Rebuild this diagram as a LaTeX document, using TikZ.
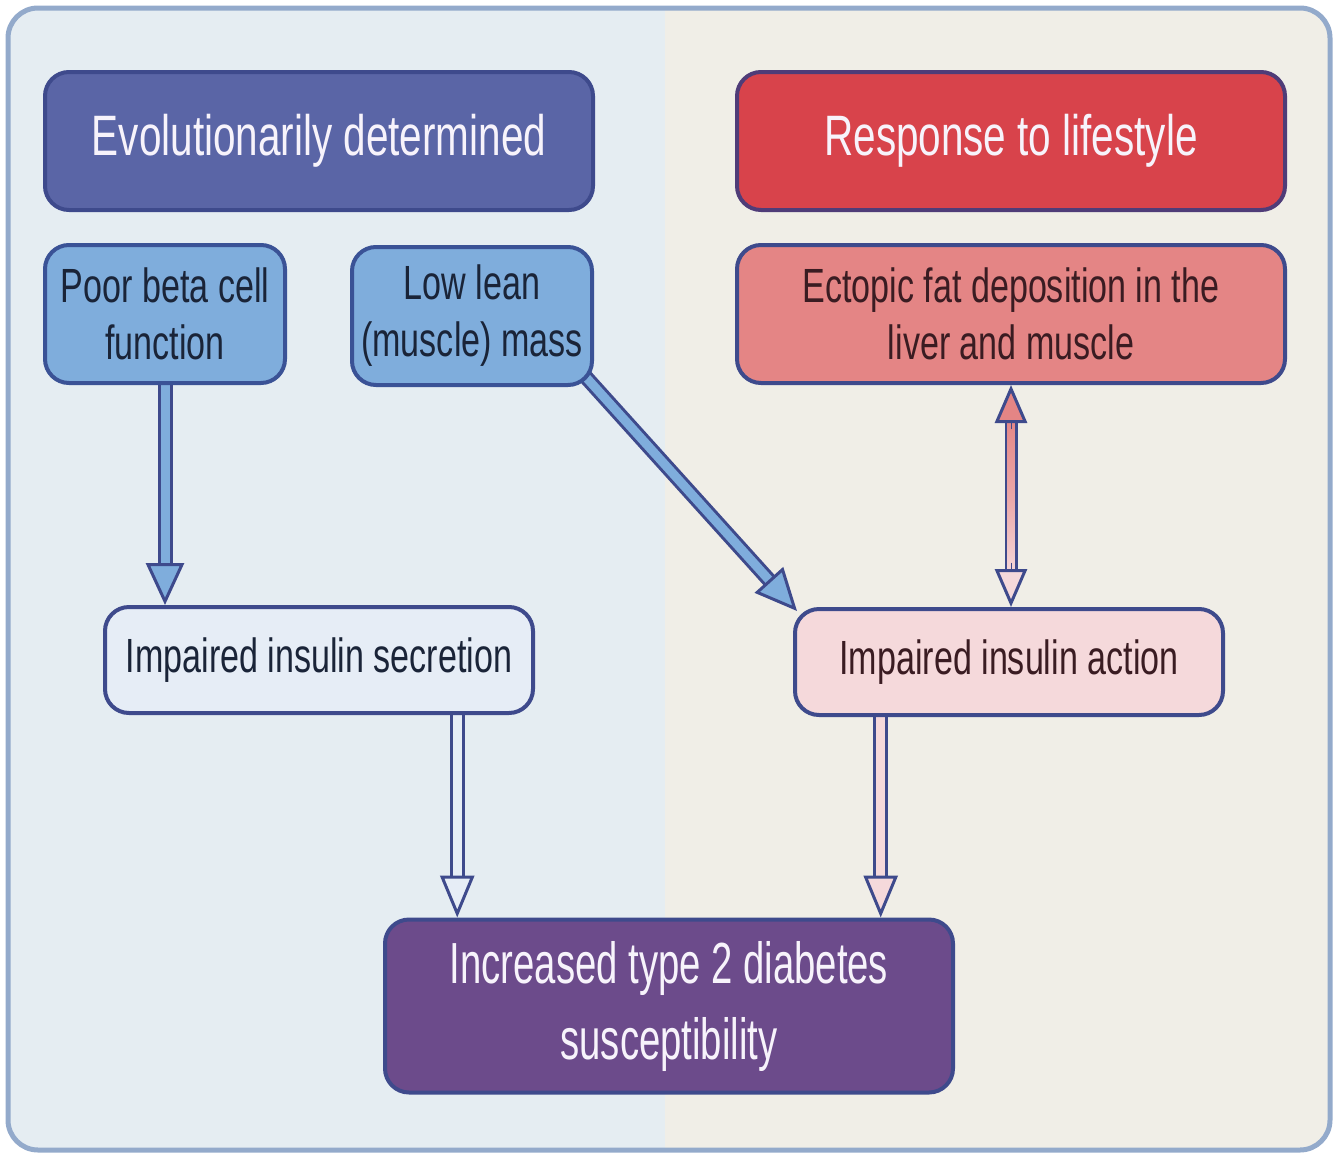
\documentclass[tikz,border=0pt]{standalone}
\usepackage{fontspec}
\setmainfont{Liberation Sans}[FakeStretch=0.71]
\newfontfamily\narrowfont{Liberation Sans}[FakeStretch=0.66]
\usetikzlibrary{arrows.meta,calc,backgrounds}
\definecolor{bgleft}{HTML}{E5EDF2}
\definecolor{bgright}{HTML}{F0EEE7}
\definecolor{panelborder}{HTML}{93AACB}
\definecolor{edge}{HTML}{3E4A8C}
\definecolor{evolfill}{HTML}{5A65A6}
\definecolor{respfill}{HTML}{D8434B}
\definecolor{respedge}{HTML}{4F3C78}
\definecolor{bluefill}{HTML}{7FADDC}
\definecolor{blueedge}{HTML}{3A5296}
\definecolor{ectofill}{HTML}{E48585}
\definecolor{secrfill}{HTML}{E6EDF6}
\definecolor{actfill}{HTML}{F5D9DB}
\definecolor{incrfill}{HTML}{6C4B8B}
\definecolor{darktext}{HTML}{1A2438}
\definecolor{redtext}{HTML}{3A1C22}
\definecolor{lighttext}{HTML}{F7F3FB}
\tikzset{
  box/.style={draw=edge, line width=4pt, rounded corners=24pt, align=center, inner sep=0pt},
  titlebox/.style={box, minimum width=548pt, minimum height=138pt, text=lighttext,
    font=\fontsize{57}{66}\selectfont},
  smallbox/.style={box, minimum height=138pt, font=\fontsize{48}{57}\selectfont},
  midbox/.style={box, minimum width=428pt, minimum height=106pt, text=darktext,
    font=\fontsize{48}{57}\selectfont},
  shaft/.style={line width=3pt, draw=edge, double distance=9pt, line cap=butt},
  headtip/.style={line width=0.1pt, draw=edge}
}
\begin{document}
\begin{tikzpicture}[x=1pt,y=-1pt]
\useasboundingbox (0,0) rectangle (1336,1154);
\begin{scope}[on background layer]
  \begin{scope}
    \clip[rounded corners=30pt] (8,8) rectangle (1330,1150);
    \fill[bgleft] (0,0) rectangle (665,1154);
    \fill[bgright] (665,0) rectangle (1336,1154);
  \end{scope}
  \draw[panelborder, line width=5pt, rounded corners=30pt] (8,8) rectangle (1330,1150);
\end{scope}

% nodes
\node[titlebox, fill=evolfill] (evol) at (319,141) {Evolutionarily determined};
\node[titlebox, fill=respfill, draw=respedge] (resp) at (1011,141) {Response to lifestyle};
\node[smallbox, fill=bluefill, draw=blueedge, minimum width=240pt, text=darktext] (poor) at (165,314) {Poor beta cell\\function};
\node[smallbox, fill=bluefill, draw=blueedge, minimum width=240pt, text=darktext] (lean) at (472,316) {Low lean\\(muscle) mass};
\node[smallbox, fill=ectofill, minimum width=548pt, text=redtext] (ecto) at (1011,314) {Ectopic fat deposition in the\\liver and muscle};
\node[midbox, fill=secrfill] (secr) at (319,660) {Impaired insulin secretion};
\node[midbox, fill=actfill, text=redtext] (act) at (1009,662) {Impaired insulin action};
\node[box, fill=incrfill, minimum width=568pt, minimum height=173pt, text=lighttext,
  font=\narrowfont\fontsize{58}{76}\selectfont] (incr) at (669,1006) {Increased type 2 diabetes\\susceptibility};

% helper coordinates
\coordinate (leanS) at ($(lean.south east)+(-10,-12)$);
\coordinate (actNW) at ($(act.north west)+(4,4)$);
\coordinate (secrS) at ($(secr.south west)!0.82!(secr.south east)$);
\coordinate (actS) at ($(act.south west)!0.203!(act.south east)$);
\coordinate (ectoT) at ($(ecto.south)+(0,30)$);
\coordinate (ectoB) at ($(ecto.south |- act.north)+(0,-30)$);

\begin{scope}[on background layer]
  % poor -> secretion
  \draw[shaft, double=bluefill, shorten >=38pt] (poor.south) -- (poor.south |- secr.north);
  \draw[headtip, -{Triangle[length=42pt,width=38pt,fill=bluefill,line width=3pt]}]
    ($(poor.south)!0.9!(poor.south |- secr.north)$) -- (poor.south |- secr.north);
  % lean -> action
  \draw[shaft, double=bluefill, shorten >=38pt] (leanS) -- (actNW);
  \draw[headtip, -{Triangle[length=42pt,width=38pt,fill=bluefill,line width=3pt]}]
    ($(leanS)!0.9!(actNW)$) -- (actNW);
  % ecto <-> action (shaded shaft)
  \draw[edge, line width=13pt, line cap=butt] (ectoT) -- (ectoB);
  \shade[top color=ectofill, bottom color=actfill, middle color=ectofill!60!actfill]
    ($(ectoT)+(-3.5,0)$) rectangle ($(ectoB)+(3.5,0)$);
  \draw[headtip, -{Triangle[length=38pt,width=32pt,fill=ectofill,line width=3pt]}]
    ($(ecto.south)!0.2!(ecto.south |- act.north)$) -- (ecto.south);
  \draw[headtip, -{Triangle[length=38pt,width=32pt,fill=actfill,line width=3pt]}]
    ($(ecto.south)!0.8!(ecto.south |- act.north)$) -- (ecto.south |- act.north);
  % secretion -> increased
  \draw[shaft, double=secrfill, shorten >=38pt] (secrS) -- (secrS |- incr.north);
  \draw[headtip, -{Triangle[length=42pt,width=34pt,fill=secrfill,line width=3pt]}]
    ($(secrS)!0.9!(secrS |- incr.north)$) -- (secrS |- incr.north);
  % action -> increased
  \draw[shaft, double=actfill, shorten >=38pt] (actS) -- (actS |- incr.north);
  \draw[headtip, -{Triangle[length=42pt,width=34pt,fill=actfill,line width=3pt]}]
    ($(actS)!0.9!(actS |- incr.north)$) -- (actS |- incr.north);
\end{scope}
\end{tikzpicture}
\end{document}
